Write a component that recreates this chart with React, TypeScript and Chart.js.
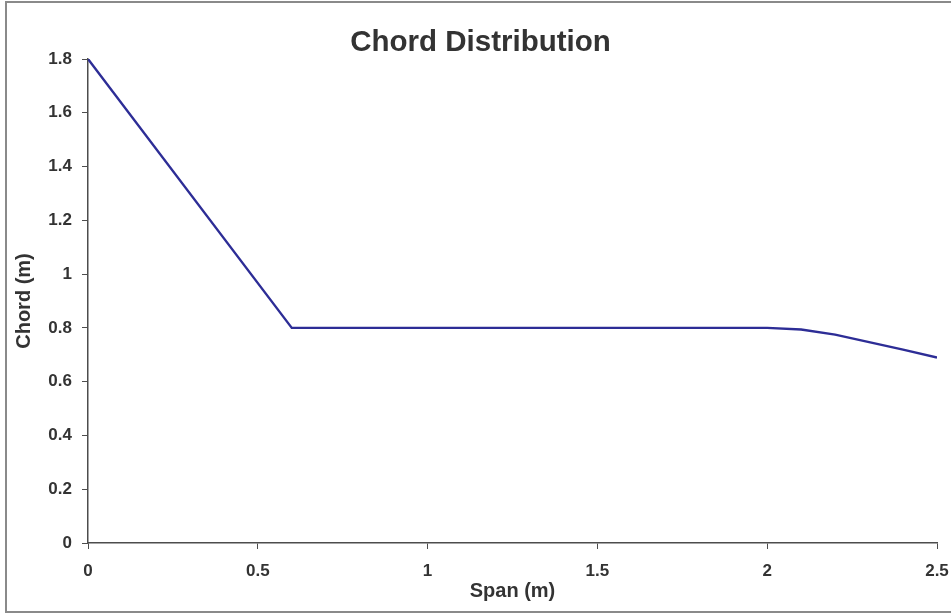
import React, { useEffect, useRef } from "react";
import { Chart, registerables } from "chart.js";

Chart.register(...registerables);

// Chord length along the span
const spanValues = [0, 0.6, 2.0, 2.1, 2.2, 2.3, 2.4, 2.5];
const chordValues = [1.8, 0.8, 0.8, 0.794, 0.775, 0.747, 0.719, 0.69];

const chartTitle = "Chord Distribution";
const xAxisTitle = "Span (m)";
const yAxisTitle = "Chord (m)";

const CANVAS_W = 961;
const CANVAS_H = 613;

const FONT = "'Liberation Sans', Arial, Helvetica, sans-serif";
const TEXT = "#333333";
const AXIS = "#4d4d4d";
const LINE = "#2d2d96";

// 1.0 -> "1", 0.2 -> "0.2"
const formatTick = (value: number | string) =>
  String(Math.round(Number(value) * 10) / 10);

export default function App() {
  const canvasRef = useRef<HTMLCanvasElement | null>(null);

  useEffect(() => {
    const canvas = canvasRef.current;
    if (!canvas) return;

    const points = spanValues.map((x, i) => ({ x, y: chordValues[i] }));

    const chart = new Chart(canvas, {
      type: "line",
      data: {
        datasets: [
          {
            data: points,
            borderColor: LINE,
            backgroundColor: LINE,
            borderWidth: 2.4,
            pointRadius: 0,
            pointHoverRadius: 0,
            tension: 0,
            fill: false,
          },
        ],
      },
      options: {
        responsive: false,
        animation: false,
        devicePixelRatio: 1,
        layout: { padding: { left: 24, right: 24, top: 0, bottom: 0 } },
        plugins: {
          legend: { display: false },
          tooltip: { enabled: false },
          title: {
            display: true,
            text: chartTitle,
            color: TEXT,
            font: { family: FONT, size: 29.5, weight: "bold", lineHeight: 1 },
            padding: { top: 28, bottom: 1.5 },
          },
        },
        scales: {
          x: {
            type: "linear",
            min: 0,
            max: 2.5,
            afterFit: (scale: any) => {
              scale.height = 70;
            },
            ticks: {
              stepSize: 0.5,
              color: TEXT,
              padding: 12,
              maxRotation: 0,
              callback: (v: number | string) => formatTick(v),
              font: { family: FONT, size: 17, weight: "bold" },
            },
            grid: {
              drawOnChartArea: false,
              drawTicks: true,
              tickLength: 6,
              color: AXIS,
            },
            border: { display: true, color: AXIS, width: 1.5 },
            title: {
              display: true,
              text: xAxisTitle,
              color: TEXT,
              font: { family: FONT, size: 20, weight: "bold" },
              padding: { top: 0, bottom: 10 },
            },
          },
          y: {
            type: "linear",
            min: 0,
            max: 1.8,
            afterFit: (scale: any) => {
              scale.width = 64;
            },
            ticks: {
              stepSize: 0.2,
              color: TEXT,
              padding: 10,
              callback: (v: number | string) => formatTick(v),
              font: { family: FONT, size: 17, weight: "bold" },
            },
            grid: {
              drawOnChartArea: false,
              drawTicks: true,
              tickLength: 6,
              color: AXIS,
            },
            border: { display: true, color: AXIS, width: 1.5 },
            title: {
              display: true,
              text: yAxisTitle,
              color: TEXT,
              font: { family: FONT, size: 20, weight: "bold", lineHeight: 1 },
              padding: { top: -10, bottom: 0 },
            },
          },
        },
      },
    });

    return () => chart.destroy();
  }, []);

  return (
    <>
      <div
        style={{
          position: "fixed",
          left: 0,
          top: 0,
          width: CANVAS_W,
          height: CANVAS_H,
          background: "#ffffff",
        }}
      >
        <canvas
          ref={canvasRef}
          width={CANVAS_W}
          height={CANVAS_H}
          style={{ display: "block", width: CANVAS_W, height: CANVAS_H }}
        />
      </div>
      <div
        style={{
          position: "fixed",
          left: 5,
          top: 1,
          width: 1000,
          height: 612,
          boxSizing: "border-box",
          border: "2px solid #8a8a8a",
          pointerEvents: "none",
        }}
      />
    </>
  );
}
